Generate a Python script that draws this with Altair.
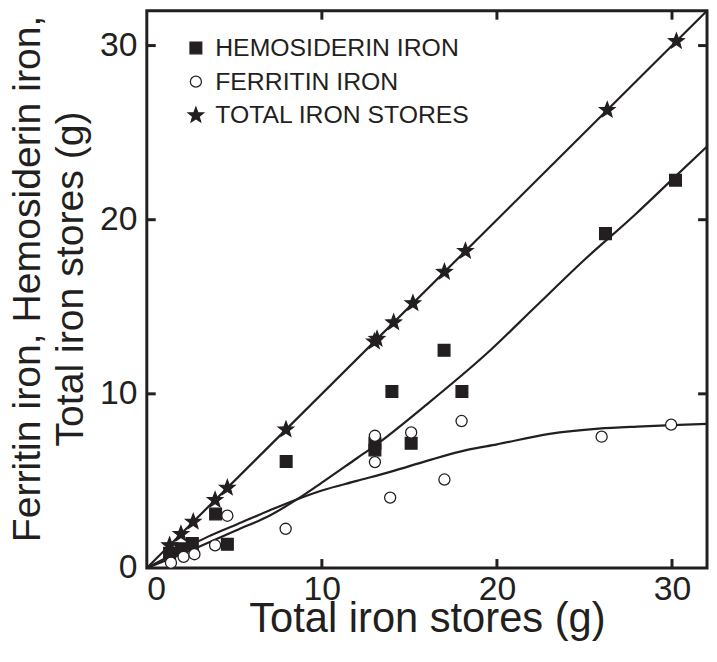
import math
import altair as alt
import pandas as pd

# ---- data ----
series_names = ["HEMOSIDERIN IRON", "FERRITIN IRON", "TOTAL IRON STORES"]

total_x = [1.3, 1.95, 2.65, 3.9, 4.6, 7.95, 13.0, 13.15, 14.1, 15.2, 17.0, 18.2, 26.3, 30.25]
total_y = [1.3, 1.95, 2.65, 3.9, 4.6, 7.95, 13.0, 13.15, 14.1, 15.2, 17.0, 18.2, 26.3, 30.25]

hemo_x = [1.3, 1.97, 2.6, 3.93, 4.6, 7.96, 13.03, 13.03, 14.0, 15.1, 16.98, 18.0, 26.2, 30.2]
hemo_y = [0.85, 1.1, 1.4, 3.1, 1.36, 6.12, 7.16, 6.78, 10.14, 7.16, 12.5, 10.14, 19.2, 22.27]

ferr_x = [1.38, 2.1, 2.72, 3.9, 4.6, 7.93, 13.03, 13.03, 13.9, 15.1, 17.0, 17.98, 25.98, 29.95]
ferr_y = [0.3, 0.64, 0.79, 1.3, 3.0, 2.25, 7.59, 6.08, 4.04, 7.78, 5.08, 8.44, 7.54, 8.23]

# fitted curves
total_curve_x = [0, 32]
total_curve_y = [0, 32]
hemo_curve_x = [0, 2, 3.5, 5.2, 7, 8.6, 10, 12, 13, 16, 19.4, 22.2, 25, 27.9, 30, 32]
hemo_curve_y = [0, 0.8, 1.45, 2.2, 3.0, 3.95, 4.9, 6.3, 7.0, 9.4, 12.3, 15.0, 17.7, 20.3, 22.3, 24.2]
ferr_curve_x = [0, 2, 3.5, 5.2, 7, 8.6, 10, 12, 14, 16, 18.3, 20, 23, 25.8, 28, 30, 32]
ferr_curve_y = [0, 1.05, 1.8, 2.53, 3.3, 3.95, 4.45, 5.0, 5.55, 6.15, 6.78, 7.1, 7.7, 8.0, 8.12, 8.2, 8.28]

tick_values = [10, 20, 30]

INK = "#231f20"
FONT = "Liberation Sans"
W, H = 565, 562

# five-pointed star symbol as an SVG path in the unit square [-1, 1]
_pts = []
for k in range(10):
    r = 1.0 if k % 2 == 0 else 0.42
    a = math.radians(-90 + 36 * k)
    _pts.append(f"{r * math.cos(a):.3f},{r * math.sin(a):.3f}")
STAR = "M" + "L".join(_pts) + "Z"

# ---- tables ----
pts = pd.concat([
    pd.DataFrame({"x": hemo_x, "y": hemo_y, "series": series_names[0]}),
    pd.DataFrame({"x": total_x, "y": total_y, "series": series_names[2]}),
    pd.DataFrame({"x": ferr_x, "y": ferr_y, "series": series_names[1]}),
], ignore_index=True)

curves = pd.concat([
    pd.DataFrame({"x": total_curve_x, "y": total_curve_y, "curve": "total"}),
    pd.DataFrame({"x": hemo_curve_x, "y": hemo_curve_y, "curve": "hemo"}),
    pd.DataFrame({"x": ferr_curve_x, "y": ferr_curve_y, "curve": "ferr"}),
], ignore_index=True)

ticks = pd.DataFrame({"v": tick_values})

xs = alt.Scale(domain=[0, 32], nice=False, zero=True)
ys = alt.Scale(domain=[0, 32], nice=False, zero=True)

x_axis = alt.Axis(values=[0, 10, 20, 30], ticks=False, domain=False, grid=False,
                  labelFontSize=34, labelPadding=5,
                  title="Total iron stores (g)", titleFontSize=42,
                  titleX=W / 2, titleY=64, titleAlign="center",
                  titleBaseline="alphabetic")
y_axis = alt.Axis(values=[0, 10, 20, 30], ticks=False, domain=False, grid=False,
                  labelFontSize=34, labelPadding=10,
                  title=["Ferritin iron, Hemosiderin iron,", "Total iron stores (g)"],
                  titleFontSize=39.5, titleLineHeight=43, titleAngle=-90,
                  titleX=-139, titleY=270, titleAlign="center", titleBaseline="top")

lines = alt.Chart(curves).mark_line(color=INK, strokeWidth=2.2, interpolate="monotone").encode(
    x=alt.X("x:Q", scale=xs, axis=x_axis),
    y=alt.Y("y:Q", scale=ys, axis=y_axis),
    detail="curve:N",
)

legend = alt.Legend(title=None, orient="none", legendX=37, legendY=25,
                    labelFontSize=25, labelOffset=7, labelLimit=500, rowPadding=8,
                    padding=0, symbolStrokeColor=INK, symbolStrokeWidth=1.3,
                    symbolOpacity=1)

points = alt.Chart(pts).mark_point(strokeWidth=1.3, opacity=1, filled=False).encode(
    x=alt.X("x:Q", scale=xs),
    y=alt.Y("y:Q", scale=ys),
    shape=alt.Shape("series:N",
                    scale=alt.Scale(domain=series_names, range=["square", "circle", STAR]),
                    legend=legend),
    fill=alt.Fill("series:N",
                  scale=alt.Scale(domain=series_names, range=[INK, "white", INK]),
                  legend=legend),
    stroke=alt.Stroke("series:N",
                      scale=alt.Scale(domain=series_names, range=[INK, INK, INK]),
                      legend=legend),
    size=alt.Size("series:N",
                  scale=alt.Scale(type="ordinal", domain=series_names, range=[140, 125, 260]),
                  legend=legend),
)

tick_bottom = alt.Chart(ticks).mark_rule(color=INK, strokeWidth=3).encode(
    x=alt.X("v:Q", scale=xs), y=alt.value(H), y2=alt.value(H - 9))
tick_top = alt.Chart(ticks).mark_rule(color=INK, strokeWidth=3).encode(
    x=alt.X("v:Q", scale=xs), y=alt.value(0), y2=alt.value(9))
tick_left = alt.Chart(ticks).mark_rule(color=INK, strokeWidth=3).encode(
    y=alt.Y("v:Q", scale=ys), x=alt.value(0), x2=alt.value(9))
tick_right = alt.Chart(ticks).mark_rule(color=INK, strokeWidth=3).encode(
    y=alt.Y("v:Q", scale=ys), x=alt.value(W), x2=alt.value(W - 9))

chart = alt.layer(lines, points, tick_bottom, tick_top, tick_left, tick_right).properties(
    width=W, height=H,
    background="white",
    autosize=alt.AutoSizeParams(type="none"),
    padding={"left": 140, "top": 0, "right": 2, "bottom": 84},
).configure_view(
    stroke=INK, strokeWidth=3
).configure_axis(
    labelFont=FONT, titleFont=FONT, labelColor=INK, titleColor=INK,
    titleFontWeight="normal"
).configure_legend(
    labelFont=FONT, labelColor=INK
)

chart.save("out.html", embed_options={"renderer": "svg", "actions": False})
